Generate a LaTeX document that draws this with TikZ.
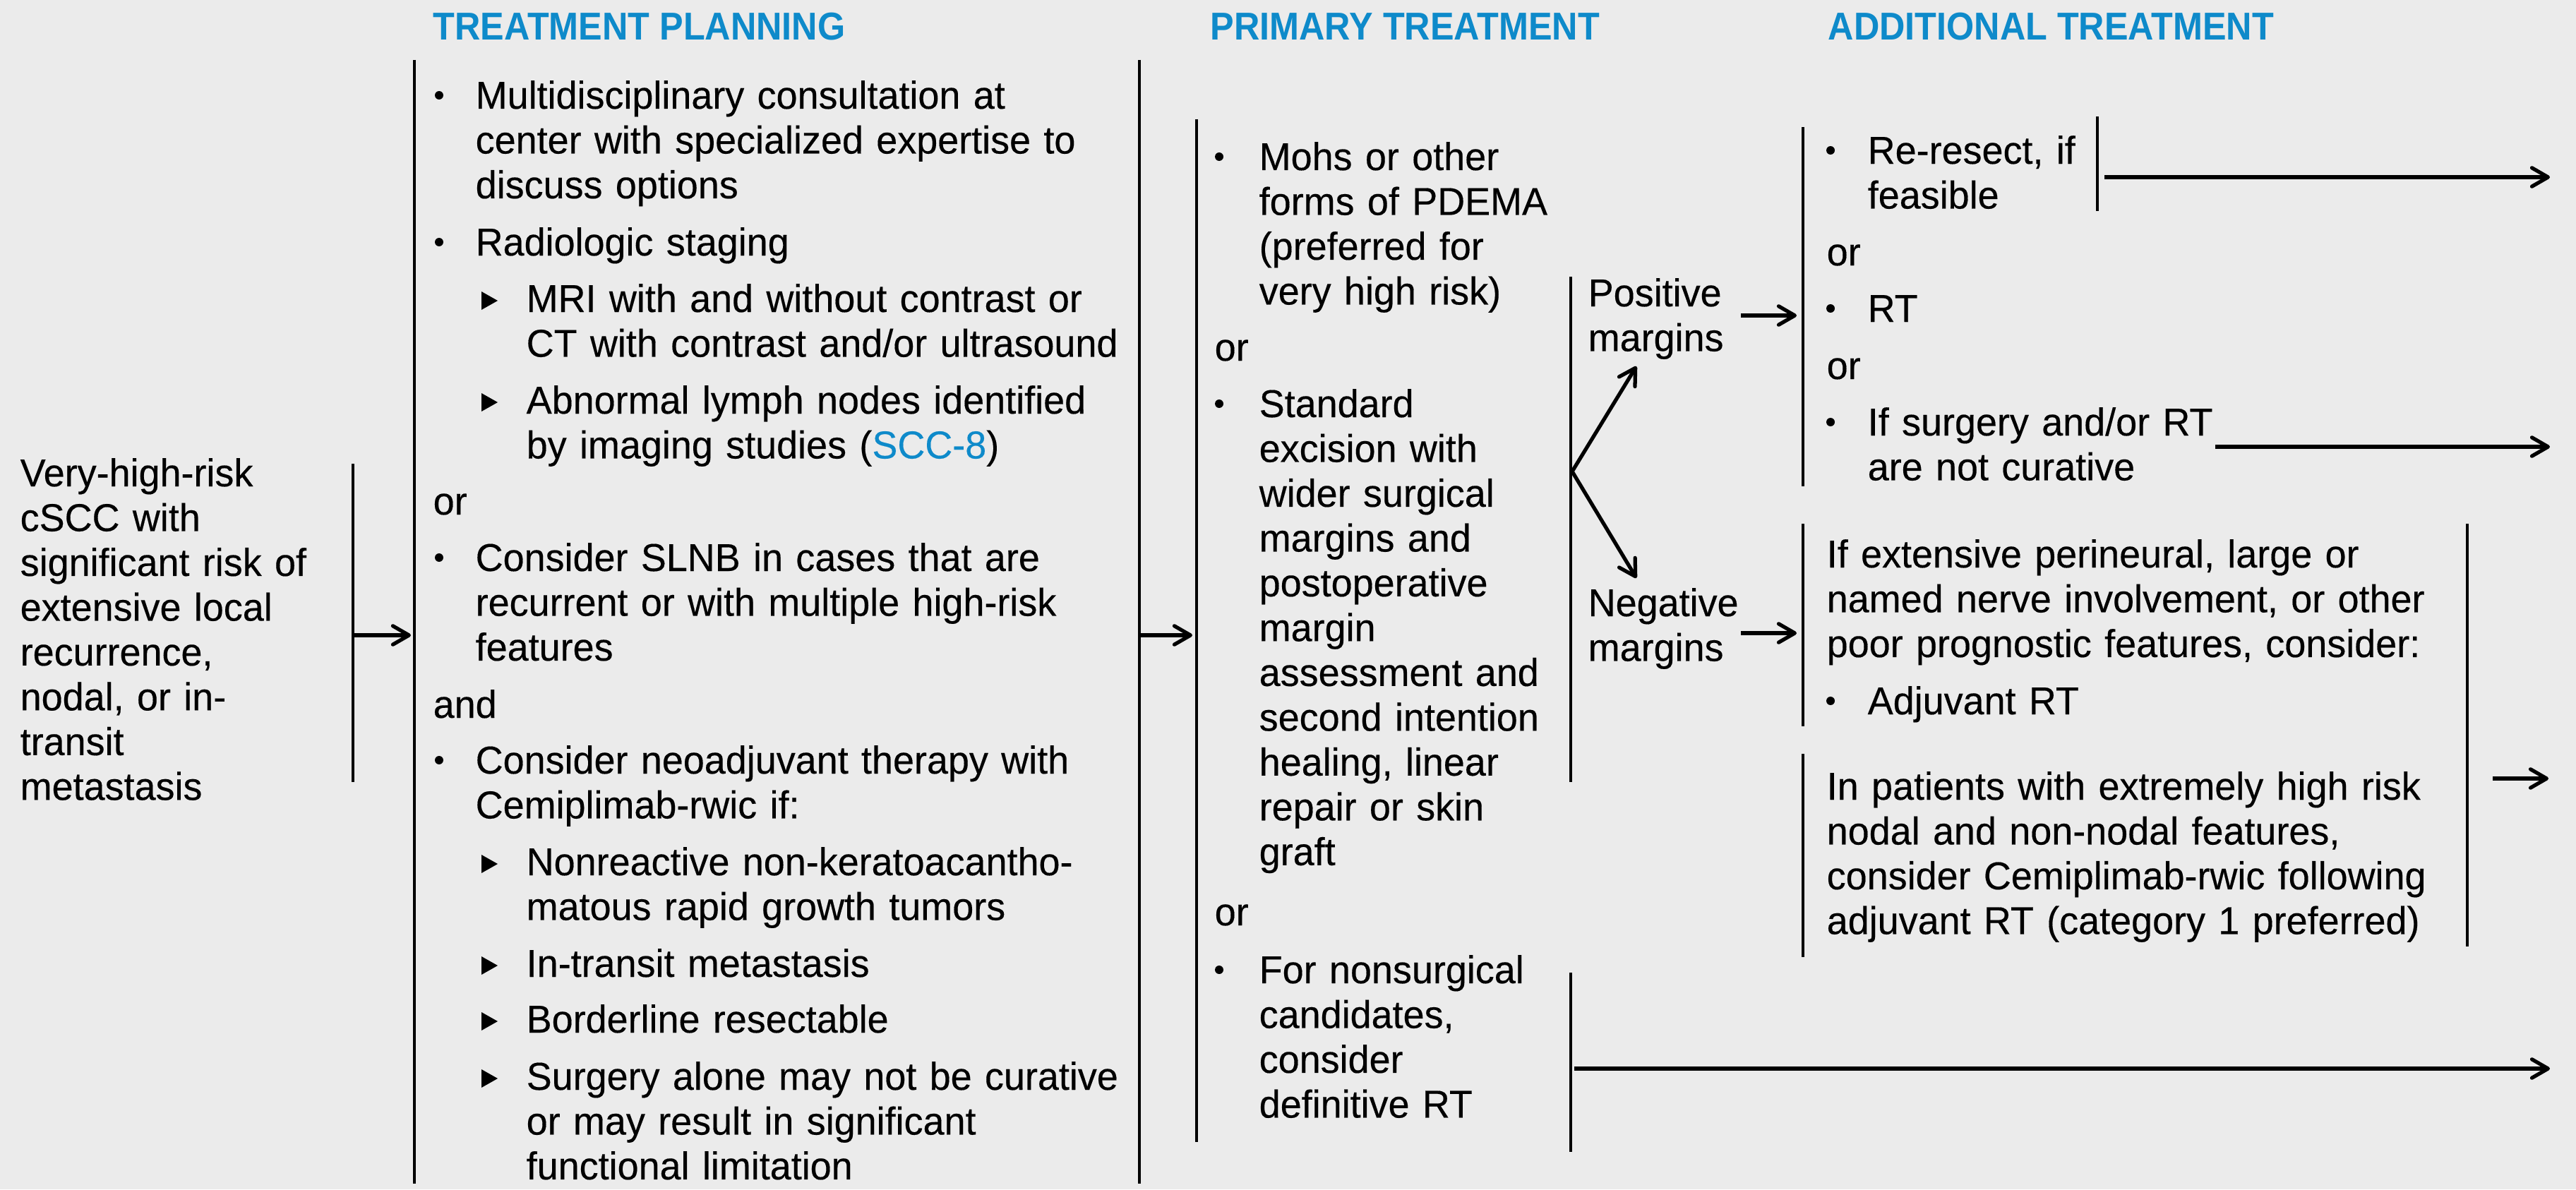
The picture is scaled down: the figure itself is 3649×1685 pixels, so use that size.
\documentclass[tikz,border=0pt]{standalone}
\usepackage{fontspec}
\setmainfont{Liberation Sans}[FakeStretch=0.98,FakeBold=0.3]
\newfontfamily\hdrfont[FakeStretch=0.915]{Liberation Sans}
\usetikzlibrary{arrows.meta}
\definecolor{bg}{HTML}{EBEBEB}
\definecolor{hblue}{RGB}{14,138,202}
\newcommand\trimark[1]{\fill (682,#1-29) -- (705,#1-16) -- (682,#1-3) -- cycle;}
\begin{document}
\begin{tikzpicture}[x=0.01cm,y=-0.01cm,
  txt/.style={anchor=base west, inner sep=0pt, text width=12cm, align=left, font=\fontsize{15.65pt}{18.05pt}\selectfont},
  hdr/.style={anchor=base west, inner sep=0pt, text=hblue, font=\hdrfont\bfseries\fontsize{15.65pt}{18pt}\selectfont},
  brk/.style={line width=0.9pt},
  arr/.style={line width=1.5pt, -{Straight Barb[length=6.5pt,width=7.5pt,round]}},
  dot/.style={circle, fill=black, inner sep=0pt, minimum size=3.4pt},
]
\fill[bg] (0,0) rectangle (3649,1685);
\useasboundingbox (0,0) rectangle (3649,1685);

% headers
\node[hdr] (h1) at (613,57) {TREATMENT PLANNING};
\node[hdr] (h2) at (1714,57) {PRIMARY TREATMENT};
\node[hdr] (h3) at (2589,57) {ADDITIONAL TREATMENT};

% left text
\node[txt] (start) at (28,689) {Very-high-risk\\cSCC with\\significant risk of\\extensive local\\recurrence,\\nodal, or in-\\transit\\metastasis};

% planning column
\node[dot] (pb1) at (622,135) {};
\node[txt] (p1) at (673,154) {Multidisciplinary consultation at\\center with specialized expertise to\\discuss options};
\node[dot] (pb2) at (622,343) {};
\node[txt] (p2) at (673,362) {Radiologic staging};
\trimark{442}
\node[txt] (p3) at (745,442) {MRI with and without contrast or\\CT with contrast and/or ultrasound};
\trimark{586}
\node[txt] (p4) at (745,586) {Abnormal lymph nodes identified\\by imaging studies (\textcolor{hblue}{SCC-8})};
\node[txt] (por) at (613,729) {or};
\node[dot] (pb3) at (622,790) {};
\node[txt] (p5) at (673,809) {Consider SLNB in cases that are\\recurrent or with multiple high-risk\\features};
\node[txt] (pand) at (613,1017) {and};
\node[dot] (pb4) at (622,1077) {};
\node[txt] (p6) at (673,1096) {Consider neoadjuvant therapy with\\Cemiplimab-rwic if:};
\trimark{1240}
\node[txt] (p7) at (745,1240) {Nonreactive non-keratoacantho-\\matous rapid growth tumors};
\trimark{1384}
\node[txt] (p8) at (745,1384) {In-transit metastasis};
\trimark{1463}
\node[txt] (p9) at (745,1463) {Borderline resectable};
\trimark{1544}
\node[txt] (p10) at (745,1544) {Surgery alone may not be curative\\or may result in significant\\functional limitation};

% primary column
\node[dot] (qb1) at (1727,222) {};
\node[txt] (q1) at (1783,241) {Mohs or other\\forms of PDEMA\\(preferred for\\very high risk)};
\node[txt] (qor1) at (1720,511) {or};
\node[dot] (qb2) at (1727,572) {};
\node[txt] (q2) at (1783,591) {Standard\\excision with\\wider surgical\\margins and\\postoperative\\margin\\assessment and\\second intention\\healing, linear\\repair or skin\\graft};
\node[txt] (qor2) at (1720,1311) {or};
\node[dot] (qb3) at (1727,1374) {};
\node[txt] (q3) at (1783,1393) {For nonsurgical\\candidates,\\consider\\definitive RT};

% margins
\node[txt] (pos) at (2249,434) {Positive\\margins};
\node[txt] (neg) at (2249,873) {Negative\\margins};

% additional column
\node[dot] (ab1) at (2593,213) {};
\node[txt] (a1) at (2645,232) {Re-resect, if\\feasible};
\node[txt] (aor1) at (2587,376) {or};
\node[dot] (ab2) at (2593,437) {};
\node[txt] (a2) at (2645,456) {RT};
\node[txt] (aor2) at (2587,537) {or};
\node[dot] (ab3) at (2593,598) {};
\node[txt] (a3) at (2645,617) {If surgery and/or RT\\are not curative};
\node[txt] (a4) at (2587,804) {If extensive perineural, large or\\named nerve involvement, or other\\poor prognostic features, consider:};
\node[dot] (ab4) at (2593,993) {};
\node[txt] (a5) at (2645,1012) {Adjuvant RT};
\node[txt] (a6) at (2587,1133) {In patients with extremely high risk\\nodal and non-nodal features,\\consider Cemiplimab-rwic following\\adjuvant RT (category 1 preferred)};

% bracket lines
\coordinate (l1t) at (500,657);   \coordinate (l1b) at (500,1108);
\coordinate (l2t) at (587,85);    \coordinate (l2b) at (587,1677);
\coordinate (l3t) at (1614,85);   \coordinate (l3b) at (1614,1677);
\coordinate (l4t) at (1695,169);  \coordinate (l4b) at (1695,1618);
\coordinate (l5t) at (2225,392);  \coordinate (l5b) at (2225,1108);
\coordinate (l6t) at (2554,180);  \coordinate (l6b) at (2554,689);
\coordinate (l7t) at (2971,165);  \coordinate (l7b) at (2971,299);
\coordinate (l8t) at (2554,742);  \coordinate (l8b) at (2554,1029);
\coordinate (l9t) at (2554,1068); \coordinate (l9b) at (2554,1356);
\coordinate (l10t) at (3495,742); \coordinate (l10b) at (3495,1341);
\coordinate (l11t) at (2225,1378);\coordinate (l11b) at (2225,1632);
\foreach \n in {1,...,11} {\draw[brk] (l\n t) -- (l\n b);}

% arrows
\coordinate (s1) at (500,900);  \coordinate (e1) at (582,900);
\coordinate (s2) at (1614,900); \coordinate (e2) at (1689,900);
\coordinate (br) at (2227,668);
\coordinate (ep) at (2318,519); \coordinate (en) at (2318,819);
\coordinate (s3) at (2466,447); \coordinate (e3) at (2545,447);
\coordinate (s4) at (2466,897); \coordinate (e4) at (2545,897);
\coordinate (s5) at (2981,251); \coordinate (e5) at (3612,251);
\coordinate (s6) at (3138,633); \coordinate (e6) at (3612,633);
\coordinate (s7) at (3531,1103);\coordinate (e7) at (3610,1103);
\coordinate (s8) at (2230,1514);\coordinate (e8) at (3612,1514);
\draw[arr] (s1) -- (e1);
\draw[arr] (s2) -- (e2);
\draw[arr] (br) -- (ep);
\draw[arr] (br) -- (en);
\draw[arr] (s3) -- (e3);
\draw[arr] (s4) -- (e4);
\draw[arr] (s5) -- (e5);
\draw[arr] (s6) -- (e6);
\draw[arr] (s7) -- (e7);
\draw[arr] (s8) -- (e8);
\end{tikzpicture}
\end{document}
